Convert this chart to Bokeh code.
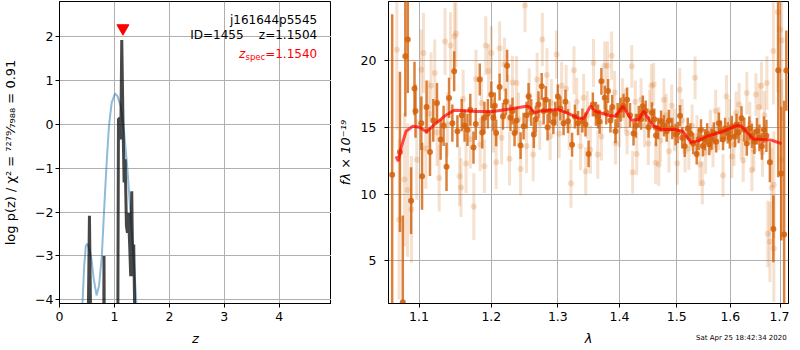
import numpy as np
from bokeh.plotting import figure
from bokeh.layouts import row, column
from bokeh.models import Range1d, FixedTicker, PrintfTickFormatter, ColumnDataSource, Div
from bokeh.core.properties import value
from bokeh.embed import file_html
from bokeh.resources import INLINE

# ---------------- left panel data: log p(z) ----------------
z_spec = 1.1540
z_best = 1.1504
obj_name = "j161644p5545"
obj_id = 1455

pz_smooth_z = [0.40, 0.418, 0.449, 0.479, 0.51, 0.558, 0.58, 0.62, 0.675, 0.72, 0.77, 0.81, 0.855,
               0.90, 0.95, 1.01, 1.055, 1.115, 1.176, 1.236, 1.296, 1.358, 1.40, 1.43]
pz_smooth_y = [-4.6, -4.08, -3.23, -2.77, -2.72, -2.92, -3.05, -3.5, -3.9, -3.68, -3.0, -2.0, -0.94,
               -0.03, 0.5, 0.71, 0.65, 0.42, -0.18, -1.02, -2.09, -3.23, -4.08, -4.6]

pz_z = [0.50, 0.525, 0.545, 0.565, 0.60, 0.79, 0.81, 0.83, 1.05, 1.073, 1.097, 1.115, 1.133,
        1.157, 1.176, 1.194, 1.218, 1.236, 1.255, 1.278, 1.296, 1.315, 1.333, 1.351, 1.369, 1.40]
pz_y = [-9.0, -4.3, -2.08, -4.3, -9.0, -9.0, -3.0, -9.0, -9.0, 0.12, 0.15, -0.34, 1.93,
        -0.08, -1.32, -0.79, -2.31, -2.47, -2.02, -2.78, -3.46, -1.52, -3.46, -2.74, -4.3, -9.0]

# ---------------- right panel data: spectrum ----------------
dark_lam = [1.065, 1.075, 1.0787, 1.082, 1.0852, 1.0895, 1.094, 1.0953, 1.103, 1.104, 1.110, 1.1146,
            1.119, 1.124, 1.129, 1.133, 1.137, 1.1405, 1.145, 1.1475, 1.152, 1.158, 1.162, 1.166,
            1.170, 1.1745, 1.1777, 1.1834, 1.187, 1.190, 1.195, 1.200, 1.203, 1.205, 1.207, 1.212,
            1.217, 1.221, 1.223, 1.228, 1.231, 1.234, 1.237, 1.243, 1.2475, 1.252, 1.255, 1.259,
            1.263, 1.266, 1.270, 1.275, 1.278, 1.2813, 1.284, 1.287, 1.293, 1.296, 1.300, 1.304,
            1.309, 1.312, 1.316, 1.3225, 1.327, 1.332, 1.339, 1.344, 1.349, 1.356, 1.361, 1.3645,
            1.367, 1.370, 1.3755, 1.378, 1.381, 1.385, 1.388, 1.3935, 1.397, 1.402, 1.407, 1.413,
            1.418, 1.424, 1.428, 1.433, 1.437, 1.440, 1.445, 1.450, 1.456, 1.460, 1.463, 1.467,
            1.472, 1.477, 1.482, 1.486, 1.492, 1.498, 1.502, 1.506, 1.510, 1.5145, 1.520, 1.525,
            1.530, 1.5365, 1.540, 1.5445, 1.548, 1.552, 1.556, 1.560, 1.564, 1.5685, 1.573, 1.578,
            1.582, 1.586, 1.590, 1.595, 1.599, 1.603, 1.609, 1.612, 1.616, 1.6216, 1.627, 1.632,
            1.637, 1.642, 1.647, 1.652, 1.657, 1.662, 1.666, 1.671, 1.678, 1.685, 1.695, 1.701,
            1.707, 1.7115]
dark_flux = [11.45, 13.15, 1.9, 20.3, 21.55, 9.5, 17.9, 16.2, 15.3, 11.33, 16.5, 13.15,
             15.5, 16.8, 14.07, 15.1, 12.03, 17.19, 15.3, 19.18, 14.69, 15.9, 15.1, 14.8,
             16.3, 13.47, 15.24, 18.56, 14.6, 15.7, 16.0, 17.44, 15.7, 16.6, 14.57, 18.0,
             15.8, 16.9, 19.6, 15.7, 16.2, 14.57, 15.5, 13.62, 15.07, 15.9, 17.3, 16.1,
             14.45, 15.6, 16.69, 18.06, 16.2, 17.06, 15.0, 16.2, 15.37, 16.0, 17.3, 16.4,
             15.3, 16.9, 15.45, 13.68, 15.8, 15.3, 15.5, 15.2, 13.0, 16.69, 16.0, 15.8,
             15.4, 18.43, 17.2, 16.1, 17.7, 15.5, 16.5, 14.69, 15.9, 16.3, 16.6, 17.06,
             15.9, 14.52, 15.1, 15.8, 15.6, 16.57, 16.2, 15.0, 16.07, 15.6, 14.37, 14.9,
             15.45, 15.1, 14.7, 15.5, 14.9, 14.45, 14.6, 15.85, 14.2, 13.57, 14.9, 14.5,
             13.77, 13.0, 14.1, 14.8, 13.6, 14.07, 14.5, 13.7, 14.1, 14.57, 13.9, 15.3,
             14.7, 14.07, 14.9, 14.57, 14.2, 15.05, 14.3, 15.2, 14.6, 15.67, 14.8, 13.77,
             14.9, 14.35, 13.9, 14.7, 14.2, 13.57, 14.8, 14.35, 12.38, 7.39, 19.25, 11.53,
             6.97, 19.23]
dark_err = [12.0, 6.0, 6.5, 4.5, 4.0, 2.5, 2.0, 2.0, 2.0, 2.5, 2.0, 1.8,
            1.6, 1.5, 1.5, 1.5, 1.8, 1.5, 1.4, 1.5, 1.2, 1.2, 1.2, 1.2,
            1.2, 1.2, 1.2, 1.2, 1.2, 1.2, 1.1, 1.0, 1.0, 1.0, 1.0, 1.0,
            1.0, 1.0, 1.2, 1.0, 1.0, 1.0, 1.0, 1.0, 1.0, 1.0, 1.0, 1.0,
            1.0, 1.0, 1.0, 1.0, 1.0, 1.0, 1.0, 0.9, 0.9, 0.9, 0.9, 0.9,
            0.9, 0.9, 0.9, 0.9, 0.9, 0.9, 0.9, 0.9, 1.0, 0.9, 0.9, 0.9,
            0.9, 1.0, 0.9, 0.9, 0.9, 0.9, 0.9, 0.9, 0.9, 0.9, 0.9, 0.9,
            0.9, 0.9, 0.9, 0.8, 0.8, 0.8, 0.8, 0.8, 0.8, 0.8, 0.8, 0.8,
            0.8, 0.8, 0.8, 0.8, 0.8, 0.8, 0.8, 0.8, 0.8, 0.8, 0.8, 0.8,
            0.8, 0.8, 0.8, 0.8, 0.8, 0.8, 0.8, 0.8, 0.8, 0.8, 0.8, 0.8,
            0.8, 0.8, 0.8, 0.8, 0.8, 0.8, 0.8, 0.8, 0.8, 0.9, 0.9, 0.9,
            0.9, 0.9, 0.9, 1.0, 1.0, 1.0, 1.0, 1.2, 1.5, 2.5, 8.0, 5.0,
            10.0, 3.0]

light_lam = [1.071, 1.074, 1.081, 1.085, 1.090, 1.097, 1.103, 1.106, 1.109, 1.113, 1.116, 1.121,
             1.124, 1.127, 1.135, 1.138, 1.1425, 1.148, 1.150, 1.155, 1.157, 1.160, 1.164, 1.170,
             1.175, 1.178, 1.184, 1.186, 1.190, 1.192, 1.196, 1.200, 1.203, 1.207, 1.212, 1.215,
             1.219, 1.224, 1.2265, 1.231, 1.237, 1.240, 1.243, 1.2496, 1.252, 1.256, 1.262, 1.268,
             1.272, 1.276, 1.283, 1.288, 1.290, 1.298, 1.302, 1.306, 1.313, 1.318, 1.3207, 1.3255,
             1.330, 1.336, 1.341, 1.3444, 1.347, 1.352, 1.357, 1.364, 1.370, 1.3755, 1.380, 1.387,
             1.392, 1.3935, 1.400, 1.405, 1.410, 1.413, 1.421, 1.4225, 1.427, 1.4295, 1.437, 1.443,
             1.4495, 1.452, 1.455, 1.459, 1.4625, 1.468, 1.471, 1.477, 1.481, 1.486, 1.491, 1.496,
             1.501, 1.5055, 1.510, 1.515, 1.522, 1.528, 1.5335, 1.537, 1.5425, 1.547, 1.553, 1.562,
             1.567, 1.572, 1.578, 1.586, 1.5925, 1.598, 1.603, 1.607, 1.611, 1.617, 1.621, 1.625,
             1.632, 1.638, 1.642, 1.646, 1.650, 1.656, 1.661, 1.663, 1.667, 1.672, 1.6737, 1.678,
             1.6815, 1.685, 1.686, 1.686, 1.694, 1.699, 1.702, 1.702]
light_flux = [20.8, 8.1, 11.08, 10.3, 8.85, 12.57, 19.3, 20.55, 13.4, 16.0, 18.1, 19.06,
              14.6, 11.2, 21.4, 15.2, 21.1, 21.8, 22.0, 11.33, 10.48, 17.1, 12.28, 14.1,
              9.06, 18.6, 13.7, 16.8, 12.08, 21.1, 19.2, 20.55, 15.1, 12.38, 20.9, 14.2,
              19.68, 16.9, 12.63, 18.35, 18.3, 15.6, 11.88, 24.1, 13.57, 17.4, 12.95, 18.56,
              15.3, 21.55, 18.9, 14.32, 16.8, 20.43, 14.5, 18.1, 17.87, 15.1, 10.78, 19.26,
              16.9, 13.57, 17.2, 11.7, 15.9, 13.32, 19.8, 12.95, 14.3, 19.6, 19.6, 20.35,
              17.6, 13.8, 15.1, 17.06, 16.3, 14.57, 19.55, 11.63, 16.9, 13.0, 17.06, 15.1,
              13.77, 16.2, 18.1, 18.2, 12.33, 12.2, 14.0, 17.06, 15.9, 13.2, 16.6, 14.8,
              12.3, 17.8, 15.5, 13.2, 13.4, 15.1, 18.69, 14.3, 12.2, 10.83, 13.1, 14.7,
              13.6, 16.2, 14.9, 11.38, 17.3, 15.5, 12.8, 13.7, 16.07, 16.7, 14.2, 12.5,
              17.55, 15.3, 11.8, 13.3, 17.44, 16.5, 18.1, 13.1, 15.9, 18.3, 7.02, 6.42,
              10.46, 20.7, 10.7, 5.92, 23.6, 22.3, 21.5, 12.57]
light_err = [6.0, 6.0, 5.0, 5.0, 4.0, 3.0, 3.0, 3.0, 3.0, 2.5, 2.5, 2.5,
             2.5, 2.5, 2.5, 2.4, 2.5, 2.5, 2.5, 2.2, 2.2, 2.2, 2.2, 2.2,
             2.5, 2.2, 2.0, 2.0, 2.0, 2.2, 2.0, 2.0, 2.0, 2.0, 2.0, 2.0,
             2.0, 2.0, 2.0, 2.0, 2.0, 2.0, 2.0, 2.0, 2.0, 2.0, 2.0, 2.0,
             2.0, 2.0, 2.0, 1.8, 1.8, 1.8, 1.8, 1.8, 1.8, 1.8, 1.8, 1.8,
             1.8, 1.8, 1.8, 1.8, 1.8, 1.8, 1.8, 1.8, 1.8, 1.8, 1.8, 1.8,
             1.6, 1.6, 1.6, 1.6, 1.6, 1.6, 1.6, 1.6, 1.6, 1.6, 1.6, 1.6,
             1.6, 1.6, 1.6, 1.6, 1.6, 1.6, 1.6, 1.6, 1.6, 1.6, 1.6, 1.6,
             1.6, 1.6, 1.6, 1.6, 1.6, 1.6, 1.6, 1.6, 1.6, 1.6, 1.6, 1.6,
             1.6, 1.6, 1.6, 1.6, 1.6, 1.6, 1.6, 1.6, 1.6, 1.6, 1.6, 1.6,
             1.6, 1.6, 1.6, 1.6, 1.6, 1.8, 1.8, 1.8, 1.8, 2.0, 2.5, 3.0,
             3.0, 4.0, 4.0, 4.0, 6.0, 6.0, 6.0, 6.0]

model_lam = [1.070, 1.0728, 1.077, 1.083, 1.0917, 1.1005, 1.110, 1.1204, 1.134, 1.1475, 1.156,
             1.1787, 1.2024, 1.222, 1.252, 1.2568, 1.2643, 1.2717, 1.2999, 1.3127, 1.3333, 1.3413,
             1.352, 1.360, 1.3822, 1.3933, 1.4061, 1.421, 1.433, 1.4414, 1.4585, 1.473, 1.4963,
             1.511, 1.526, 1.538, 1.556, 1.5864, 1.612, 1.6216, 1.6446, 1.665, 1.6815, 1.7017]
model_flux = [12.82, 12.45, 13.57, 14.69, 15.07, 14.99, 14.65, 15.19, 15.81, 16.26, 16.24,
              16.17, 16.17, 16.32, 16.57, 16.5, 16.07, 16.2, 16.32, 16.1, 15.66, 15.66,
              16.57, 16.2, 15.87, 15.81, 16.57, 15.52, 15.57, 16.2, 15.07, 14.82, 14.82,
              14.69, 13.87, 13.95, 14.32, 14.69, 15.12, 15.07, 14.12, 14.07, 14.02, 13.77]

lam_ticks = [1.1, 1.2, 1.3, 1.4, 1.5, 1.6, 1.7]
flux_ticks = [5, 10, 15, 20]
z_ticks = [0, 1, 2, 3, 4]
logp_ticks = [-4, -3, -2, -1, 0, 1, 2]
timestamp = "Sat Apr 25 18:42:34 2020"

ORANGE = "#d3620b"
GRID = "#b0b0b0"
FONT = "DejaVu Sans"


def style(p, xt, yt):
    for ax in (p.xaxis[0], p.yaxis[0]):
        ax.axis_line_color = "black"
        ax.major_tick_line_color = "black"
        ax.major_tick_out = 4
        ax.major_tick_in = 0
        ax.minor_tick_line_color = None
        ax.major_label_text_font = FONT
        ax.major_label_text_font_size = "12.5px"
        ax.major_label_text_color = "black"
        ax.axis_label_text_font = FONT
        ax.axis_label_text_font_size = "13px"
        ax.axis_label_text_color = "black"
    tx = FixedTicker(ticks=xt, minor_ticks=[])
    ty = FixedTicker(ticks=yt, minor_ticks=[])
    p.xaxis.ticker = tx
    p.yaxis.ticker = ty
    p.xgrid.ticker = tx
    p.ygrid.ticker = ty
    p.xgrid.grid_line_color = GRID
    p.ygrid.grid_line_color = GRID
    p.xgrid.grid_line_width = 1
    p.ygrid.grid_line_width = 1
    p.outline_line_color = "black"
    p.outline_line_width = 1
    p.outline_line_alpha = 1
    p.background_fill_color = "white"
    p.border_fill_color = "white"
    p.xaxis.major_label_standoff = 4
    p.xaxis.axis_label_standoff = 7


FH = 302  # frame height
BOTTOM = 44

# ---------------- left figure ----------------
p1 = figure(frame_width=272, frame_height=FH, x_range=Range1d(0, 4.95),
            y_range=Range1d(-4.085, 2.81), output_backend="svg", toolbar_location=None,
            min_border_left=54, min_border_right=0, min_border_top=0, min_border_bottom=BOTTOM)
style(p1, z_ticks, logp_ticks)
p1.yaxis.major_label_overrides = {t: ("\u2212" + str(abs(t)) if t < 0 else str(t)) for t in logp_ticks}
p1.xaxis.axis_label = "z"
p1.xaxis.axis_label_text_font_style = "italic"
p1.yaxis.axis_label = "log p(z) / \u03c7\u00b2 = \u2077\u00b2\u2077\u2079\u2044\u2087\u2089\u2088\u2088 = 0.91"
p1.yaxis.axis_label_text_font_style = "normal"
p1.yaxis.major_label_standoff = 2
p1.yaxis.axis_label_standoff = 14

p1.line(pz_smooth_z, pz_smooth_y, line_color="#1f77b4", line_alpha=0.5, line_width=2)
p1.line(pz_z, pz_y, line_color="black", line_alpha=0.72, line_width=3)
p1.scatter([z_spec], [2.2], marker="inverted_triangle", size=12, color="red")

NB = "\u00a0"
p1.text(x=[4.69, 4.69], y=[2.39, 2.05],
        text=[obj_name, f"ID={obj_id}{NB * 4}z={z_best:.4f}"],
        text_align="right", text_baseline="middle", text_font=value(FONT),
        text_font_size="12px", text_color="black")
p1.text(x=[4.69], y=[1.62], text=[f"={z_spec:.4f}"], text_align="right", text_baseline="middle",
        text_font=value(FONT), text_font_size="12px", text_color="red")
p1.text(x=[4.69], y=[1.62], text=["spec"], text_align="right", text_baseline="middle",
        x_offset=-52, y_offset=3, text_font=value(FONT), text_font_size="8.5px", text_color="red")
p1.text(x=[4.69], y=[1.62], text=["z"], text_align="right", text_baseline="middle",
        x_offset=-72, text_font=value(FONT), text_font_size="12px", text_color="red",
        text_font_style="italic")

# ---------------- right figure ----------------
p2 = figure(frame_width=400, frame_height=FH, x_axis_type="log", x_range=Range1d(1.0603, 1.716),
            y_range=Range1d(1.81, 24.4), output_backend="svg", toolbar_location=None,
            min_border_left=57, min_border_right=1, min_border_top=0, min_border_bottom=BOTTOM)
style(p2, lam_ticks, flux_ticks)
p2.xaxis.formatter = PrintfTickFormatter(format="%.1f")
p2.xaxis.axis_label = "\u03bb"
p2.xaxis.axis_label_text_font_style = "italic"
p2.yaxis.axis_label = "f\u03bb \u00d7 10\u207b\u00b9\u2079"
p2.yaxis.axis_label_text_font_style = "italic"
p2.yaxis.major_label_standoff = 8
p2.yaxis.axis_label_standoff = 5

la = np.array(light_lam); lf = np.array(light_flux); le = np.array(light_err)
da = np.array(dark_lam); df = np.array(dark_flux); de = np.array(dark_err)

light_src = ColumnDataSource(dict(x=la, y=lf, lo=lf - le, hi=lf + le))
dark_src = ColumnDataSource(dict(x=da, y=df, lo=df - de, hi=df + de))

p2.segment(x0="x", y0="lo", x1="x", y1="hi", source=light_src, line_color=ORANGE,
           line_alpha=0.2, line_width=3)
p2.scatter(x="x", y="y", source=light_src, size=6, fill_color=ORANGE, fill_alpha=0.2,
           line_color=None)
p2.segment(x0="x", y0="lo", x1="x", y1="hi", source=dark_src, line_color=ORANGE,
           line_alpha=0.8, line_width=2.5)
p2.scatter(x="x", y="y", source=dark_src, size=6, fill_color=ORANGE, fill_alpha=0.85,
           line_color=None)
p2.line(model_lam, model_flux, line_color="red", line_alpha=0.7, line_width=3)

stamp = Div(text=timestamp, width=88, height=2, margin=(-14, 0, -6, 696),
            styles={"font-family": FONT, "font-size": "7px", "line-height": "9px",
                    "white-space": "nowrap", "overflow": "visible", "color": "black"})

layout = column(row(p1, p2, margin=(1, 0, 0, 0)), stamp)
open("out.html", "w").write(file_html(layout, INLINE))
